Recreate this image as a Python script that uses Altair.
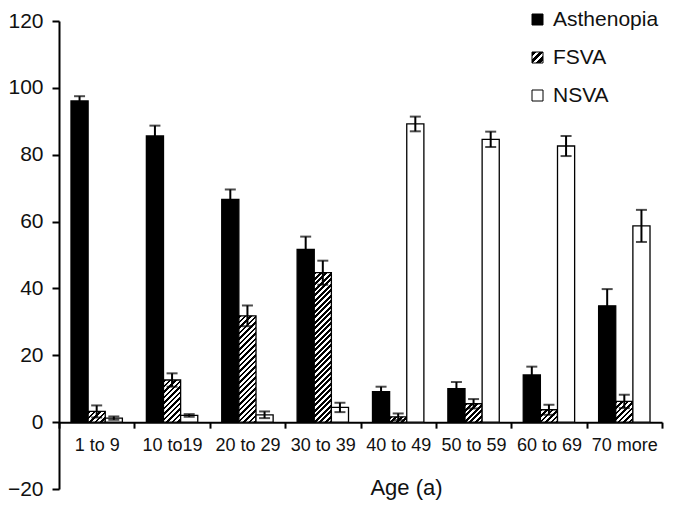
import math
import altair as alt
import pandas as pd

# ---- data ----
categories = ["1 to 9", "10 to19", "20 to 29", "30 to 39",
              "40 to 49", "50 to 59", "60 to 69", "70 more"]
series_names = ["Asthenopia", "FSVA", "NSVA"]

asthenopia = [96.1, 85.6, 66.6, 51.7, 9.1, 10.0, 14.1, 34.8]
asthenopia_err = [1.4, 3.1, 3.0, 3.8, 1.5, 2.0, 2.5, 5.0]
fsva = [3.2, 12.6, 31.8, 44.7, 1.6, 5.5, 3.7, 6.2]
fsva_err = [1.8, 2.0, 3.1, 3.6, 1.0, 1.4, 1.5, 2.0]
nsva = [1.2, 2.0, 2.2, 4.4, 89.2, 84.6, 82.6, 58.7]
nsva_err = [0.5, 0.4, 1.0, 1.4, 2.2, 2.3, 3.0, 4.8]

rows = []
for i, c in enumerate(categories):
    for s, vals, errs in [("Asthenopia", asthenopia, asthenopia_err),
                          ("FSVA", fsva, fsva_err),
                          ("NSVA", nsva, nsva_err)]:
        rows.append({"cat": c, "series": s, "value": vals[i],
                     "lo": vals[i] - errs[i], "hi": vals[i] + errs[i]})
df = pd.DataFrame(rows)

# ---- layout ----
W, H = 603, 468
Y_MIN, Y_MAX = -20, 120
K = H / (Y_MAX - Y_MIN)          # px per unit
BAND = W / len(categories)
PAD_OUTER = 0.7
BAR_W = BAND / (3 + 2 * PAD_OUTER)
FONT = "Liberation Sans"


def hatch(w, h, period=5.5, frac=0.5):
    """diagonal '/' stripes via a hard-stop linear gradient (SVG bbox units)"""
    total = w + h
    n = math.ceil(total / period)
    stops = []
    for i in range(n):
        a = min(i * period / total, 1)
        b = min((i + frac) * period / total, 1)
        e = min((i + 1) * period / total, 1)
        stops += [{"offset": a, "color": "#000000"},
                  {"offset": b, "color": "#000000"},
                  {"offset": b, "color": "#ffffff"},
                  {"offset": e, "color": "#ffffff"}]
    d = w * w + h * h
    return {"gradient": "linear", "x1": 0, "y1": 0,
            "x2": w * total / d, "y2": h * total / d, "stops": stops}


conds = []
for i, c in enumerate(categories):
    conds.append({"test": f"datum.cat === '{c}' && datum.series === 'FSVA'",
                  "value": hatch(BAR_W, max(fsva[i] * K, 1))})

# legend symbol gradient (square)
leg_stops = []
n_leg = 3
for i in range(n_leg):
    a = i / n_leg
    b = (i + 0.6) / n_leg
    e = (i + 1) / n_leg
    leg_stops += [f"{{offset: {a:.4f}, color: '#000'}}", f"{{offset: {b:.4f}, color: '#000'}}",
                  f"{{offset: {b:.4f}, color: '#fff'}}", f"{{offset: {e:.4f}, color: '#fff'}}"]
leg_grad = "{gradient: 'linear', x1: 0, y1: 0, x2: 1, y2: 1, stops: [" + ", ".join(leg_stops) + "]}"

x_enc = alt.X("cat:N", sort=categories,
              scale=alt.Scale(paddingInner=0, paddingOuter=0),
              axis=alt.Axis(title="Age (a)", labelAngle=0, tickBand="extent",
                            offset=-(0 - Y_MIN) * K,
                            domainColor="#000", domainWidth=2,
                            tickColor="#000", tickWidth=2, tickSize=6,
                            labelFont=FONT, labelFontSize=18, labelColor="#111",
                            labelPadding=8,
                            titleFont=FONT, titleFontSize=22, titleFontWeight="normal",
                            titleColor="#111", titleX=347, titleY=72,
                            titleBaseline="alphabetic", titleAlign="center"))
xoff_enc = alt.XOffset("series:N", sort=series_names,
                       scale=alt.Scale(paddingOuter=PAD_OUTER, paddingInner=0))
y_scale = alt.Scale(domain=[Y_MIN, Y_MAX], nice=False, zero=False)

bars = alt.Chart(df).mark_bar(stroke="#000", strokeWidth=1.3).encode(
    x=x_enc,
    xOffset=xoff_enc,
    y=alt.Y("value:Q", scale=y_scale, title=None,
            axis=alt.Axis(values=list(range(-20, 121, 20)), grid=False,
                          domainColor="#000", domainWidth=2,
                          tickColor="#000", tickWidth=2, tickSize=7,
                          labelFont=FONT, labelFontSize=21, labelColor="#111",
                          labelPadding=9)),
    fill=alt.Fill("series:N",
                  scale=alt.Scale(domain=series_names,
                                  range=["#000000", {"expr": leg_grad}, "#ffffff"]),
                  legend=alt.Legend(title=None, orient="none",
                                    legendX=468, legendY=-12,
                                    direction="vertical", symbolType="square",
                                    symbolSize=121, symbolStrokeColor="#000",
                                    symbolStrokeWidth=1, symbolOpacity=1,
                                    padding=0,
                                    labelFont=FONT, labelFontSize=21,
                                    labelColor="#111", labelOffset=5,
                                    rowPadding=16),
                  condition=conds),
)

err_rule = alt.Chart(df).mark_rule(color="#000", strokeWidth=2).encode(
    x=x_enc, xOffset=xoff_enc,
    y=alt.Y("lo:Q", scale=y_scale, title=None),
    y2="hi:Q",
)
cap_hi = alt.Chart(df).mark_tick(color="#000", thickness=2, size=11,
                                 orient="horizontal").encode(
    x=x_enc, xOffset=xoff_enc,
    y=alt.Y("hi:Q", scale=y_scale, title=None),
)
cap_lo = alt.Chart(df).mark_tick(color="#000", thickness=2, size=11,
                                 orient="horizontal").encode(
    x=x_enc, xOffset=xoff_enc,
    y=alt.Y("lo:Q", scale=y_scale, title=None),
)

chart = alt.layer(bars, err_rule, cap_hi, cap_lo).properties(
    width=W, height=H,
    padding={"left": 51, "top": 13, "right": 4, "bottom": 11},
    autosize=alt.AutoSizeParams(type="none"),
    background="#ffffff",
).configure_view(stroke=None)

chart.save("out.html", embed_options={"renderer": "svg", "actions": False})
